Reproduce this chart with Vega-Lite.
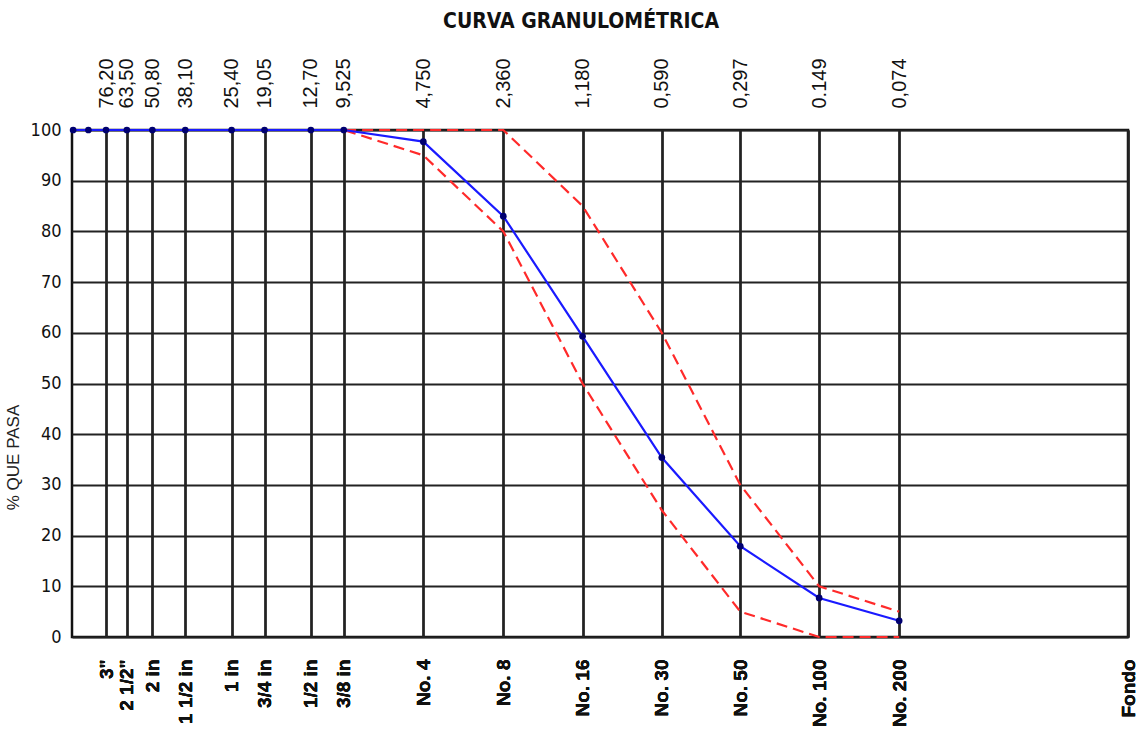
{
  "$schema": "https://vega.github.io/schema/vega-lite/v6.json",
  "width": 1056,
  "height": 507,
  "autosize": {"type": "none"},
  "padding": {"left": 72, "top": 130, "right": 13, "bottom": 112},
  "background": "white",
  "title": {
    "text": "CURVA GRANULOMÉTRICA",
    "font": "Liberation Sans Narrow, DejaVu Sans Condensed, sans-serif",
    "fontSize": 21,
    "fontWeight": "bold",
    "color": "#111",
    "anchor": "middle",
    "dx": -19,
    "offset": 26
  },
  "data": {
    "values": [
      {"size": 101.6, "pasa": 100, "sup": 100, "inf": 100},
      {"size": 88.9, "pasa": 100, "sup": 100, "inf": 100},
      {"size": 76.2, "pasa": 100, "sup": 100, "inf": 100},
      {"size": 63.5, "pasa": 100, "sup": 100, "inf": 100},
      {"size": 50.8, "pasa": 100, "sup": 100, "inf": 100},
      {"size": 38.1, "pasa": 100, "sup": 100, "inf": 100},
      {"size": 25.4, "pasa": 100, "sup": 100, "inf": 100},
      {"size": 19.05, "pasa": 100, "sup": 100, "inf": 100},
      {"size": 12.7, "pasa": 100, "sup": 100, "inf": 100},
      {"size": 9.525, "pasa": 100, "sup": 100, "inf": 100},
      {"size": 4.75, "pasa": 97.7, "sup": 100, "inf": 95},
      {"size": 2.36, "pasa": 83.0, "sup": 100, "inf": 80},
      {"size": 1.18, "pasa": 59.3, "sup": 85, "inf": 50},
      {"size": 0.59, "pasa": 35.4, "sup": 60, "inf": 25},
      {"size": 0.297, "pasa": 17.9, "sup": 30, "inf": 5},
      {"size": 0.149, "pasa": 7.7, "sup": 10, "inf": 0},
      {"size": 0.074, "pasa": 3.2, "sup": 5, "inf": 0}
    ]
  },
  "encoding": {
    "x": {
      "field": "size",
      "type": "quantitative",
      "scale": {"type": "log", "domain": [0.01, 102.6], "reverse": true, "nice": false, "zero": false},
      "axis": {
        "orient": "bottom",
        "title": null,
        "values": [76.2, 63.5, 50.8, 38.1, 25.4, 19.05, 12.7, 9.525, 4.75, 2.36, 1.18, 0.59, 0.297, 0.149, 0.074, 0.01],
        "labelExpr": "{'76.2':'3\"','63.5':'2 1/2\"','50.8':'2 in','38.1':'1 1/2 in','25.4':'1 in','19.05':'3/4 in','12.7':'1/2 in','9.525':'3/8 in','4.75':'No. 4','2.36':'No. 8','1.18':'No. 16','0.59':'No. 30','0.297':'No. 50','0.149':'No. 100','0.074':'No. 200','0.01':'Fondo'}[''+datum.value]",
        "labelAngle": -90,
        "labelAlign": "right",
        "labelBaseline": "middle",
        "labelPadding": 22,
        "labelFont": "Liberation Sans, Arial, sans-serif",
        "labelFontSize": 19,
        "labelFontWeight": "bold",
        "labelColor": "#111",
        "labelOverlap": false,
        "labelFlush": false,
        "labelBound": false,
        "ticks": false,
        "domain": false,
        "grid": true,
        "gridColor": "#222",
        "gridWidth": 1.8,
        "gridOpacity": 1
      }
    }
  },
  "layer": [
    {
      "mark": {"type": "line", "color": "#ff2a2a", "strokeWidth": 2.2, "strokeDash": [11, 6]},
      "encoding": {
        "y": {
          "field": "sup",
          "type": "quantitative",
          "scale": {"domain": [0, 100], "nice": false},
          "axis": {
            "title": "% QUE PASA",
            "titleFont": "Liberation Sans, Arial, sans-serif",
            "titleFontSize": 17,
            "titleFontWeight": "normal",
            "titleColor": "#222",
            "titleX": -50,
            "titleY": 327,
            "titleAngle": -90,
            "values": [0, 10, 20, 30, 40, 50, 60, 70, 80, 90, 100],
            "labelFont": "Liberation Sans Narrow, DejaVu Sans Condensed, sans-serif",
            "labelFontSize": 18,
            "labelColor": "#111",
            "labelPadding": 11,
            "ticks": false,
            "domain": false,
            "grid": true,
            "gridColor": "#222",
            "gridWidth": 1.8,
            "gridOpacity": 1
          }
        }
      }
    },
    {
      "mark": {"type": "line", "color": "#ff2a2a", "strokeWidth": 2.2, "strokeDash": [11, 6]},
      "encoding": {
        "y": {
          "field": "inf",
          "type": "quantitative",
          "axis": {
            "title": "% QUE PASA",
            "titleFont": "Liberation Sans, Arial, sans-serif",
            "titleFontSize": 17,
            "titleFontWeight": "normal",
            "titleColor": "#222",
            "titleX": -50,
            "titleY": 327,
            "titleAngle": -90,
            "values": [0, 10, 20, 30, 40, 50, 60, 70, 80, 90, 100],
            "labelFont": "Liberation Sans Narrow, DejaVu Sans Condensed, sans-serif",
            "labelFontSize": 18,
            "labelColor": "#111",
            "labelPadding": 11,
            "ticks": false,
            "domain": false,
            "grid": true,
            "gridColor": "#222",
            "gridWidth": 1.8,
            "gridOpacity": 1
          }
        }
      }
    },
    {
      "mark": {"type": "line", "color": "#1a1aff", "strokeWidth": 2.2},
      "encoding": {
        "y": {
          "field": "pasa",
          "type": "quantitative",
          "axis": {
            "title": "% QUE PASA",
            "titleFont": "Liberation Sans, Arial, sans-serif",
            "titleFontSize": 17,
            "titleFontWeight": "normal",
            "titleColor": "#222",
            "titleX": -50,
            "titleY": 327,
            "titleAngle": -90,
            "values": [0, 10, 20, 30, 40, 50, 60, 70, 80, 90, 100],
            "labelFont": "Liberation Sans Narrow, DejaVu Sans Condensed, sans-serif",
            "labelFontSize": 18,
            "labelColor": "#111",
            "labelPadding": 11,
            "ticks": false,
            "domain": false,
            "grid": true,
            "gridColor": "#222",
            "gridWidth": 1.8,
            "gridOpacity": 1
          }
        }
      }
    },
    {
      "mark": {"type": "point", "filled": true, "color": "#000070", "size": 45, "opacity": 1},
      "encoding": {
        "y": {
          "field": "pasa",
          "type": "quantitative",
          "axis": {
            "title": "% QUE PASA",
            "titleFont": "Liberation Sans, Arial, sans-serif",
            "titleFontSize": 17,
            "titleFontWeight": "normal",
            "titleColor": "#222",
            "titleX": -50,
            "titleY": 327,
            "titleAngle": -90,
            "values": [0, 10, 20, 30, 40, 50, 60, 70, 80, 90, 100],
            "labelFont": "Liberation Sans Narrow, DejaVu Sans Condensed, sans-serif",
            "labelFontSize": 18,
            "labelColor": "#111",
            "labelPadding": 11,
            "ticks": false,
            "domain": false,
            "grid": true,
            "gridColor": "#222",
            "gridWidth": 1.8,
            "gridOpacity": 1
          }
        }
      }
    },
    {
      "mark": {"type": "rule", "opacity": 0},
      "encoding": {
        "x": {
          "field": "size",
          "type": "quantitative",
          "axis": {
            "orient": "top",
            "title": null,
            "values": [76.2, 63.5, 50.8, 38.1, 25.4, 19.05, 12.7, 9.525, 4.75, 2.36, 1.18, 0.59, 0.297, 0.149, 0.074],
            "labelExpr": "{'76.2':'76,20','63.5':'63,50','50.8':'50,80','38.1':'38,10','25.4':'25,40','19.05':'19,05','12.7':'12,70','9.525':'9,525','4.75':'4,750','2.36':'2,360','1.18':'1,180','0.59':'0,590','0.297':'0,297','0.149':'0.149','0.074':'0,074'}[''+datum.value]",
            "labelAngle": -90,
            "labelAlign": "left",
            "labelBaseline": "middle",
            "labelPadding": 22,
            "labelFont": "Liberation Sans, Arial, sans-serif",
            "labelFontSize": 20,
            "labelColor": "#111",
            "labelOverlap": false,
            "labelFlush": false,
            "labelBound": false,
            "ticks": false,
            "domain": false,
            "grid": false
          }
        }
      }
    }
  ],
  "resolve": {"axis": {"x": "independent"}},
  "config": {
    "view": {"stroke": "#111", "strokeWidth": 2.5}
  }
}
